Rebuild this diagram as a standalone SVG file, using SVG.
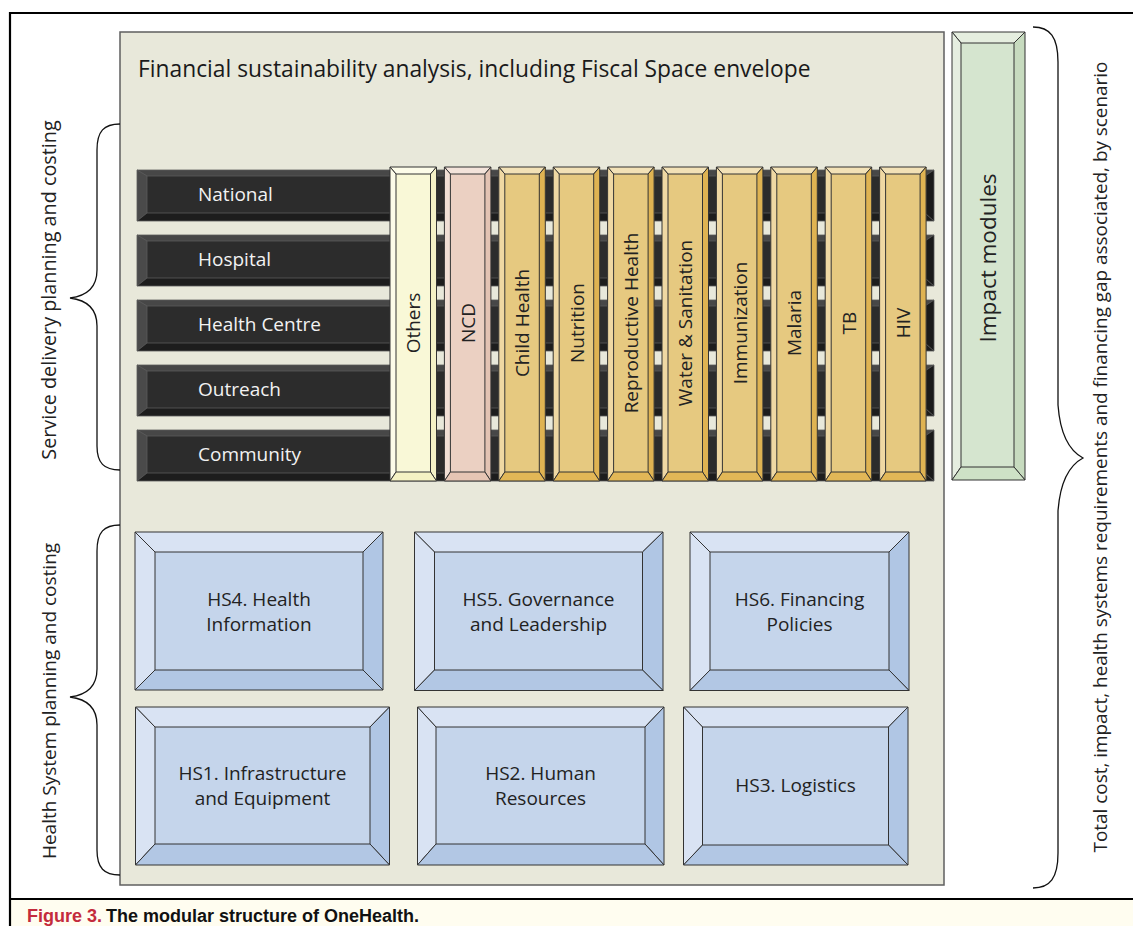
<svg xmlns="http://www.w3.org/2000/svg" width="1133" height="926" viewBox="0 0 1133 926">
  <style>
    .lbl { font-family: "Open Sans", "Noto Sans", "Liberation Sans", sans-serif; font-size: 19px; fill: #222; }
    .lbl-w { font-family: "Open Sans", "Noto Sans", "Liberation Sans", sans-serif; font-size: 19px; fill: #f2f2f2; }
    .title { font-family: "Open Sans", "Noto Sans", "Liberation Sans", sans-serif; font-size: 22.8px; fill: #1a1a1a; }
    .brace { fill: none; stroke: #111; stroke-width: 1.3; }
    .edge { stroke: #333; stroke-width: 1; stroke-linejoin: round; }
    .dedge { stroke: #5a5a5a; stroke-width: 0.8; stroke-linejoin: round; }
    /* service-delivery level bars */
    .bar-main { fill: #2c2c2c; }
    .bar-top { fill: #474747; }
    .bar-left { fill: #4a4a4a; }
    .bar-bot { fill: #1d1d1d; }
    .bar-right { fill: #1a1a1a; }
    /* programme columns */
    .oth-main { fill: #f9f8d7; } .oth-l { fill: #fcfbe8; } .oth-t { fill: #fdfce9; } .oth-r { fill: #f4f1c6; } .oth-b { fill: #f5f2c4; }
    .ncd-main { fill: #ebd0c2; } .ncd-l { fill: #f1dfd5; } .ncd-t { fill: #f3e3da; } .ncd-r { fill: #e3c3b3; } .ncd-b { fill: #e6c5b4; }
    .gld-main { fill: #e6c980; } .gld-l { fill: #efd8a3; } .gld-t { fill: #f2e1b6; } .gld-r { fill: #dfb352; } .gld-b { fill: #e2b757; }
    /* health system boxes */
    .hs-main { fill: #c5d5eb; } .hs-l { fill: #d9e3f3; } .hs-t { fill: #d9e3f3; } .hs-r { fill: #b0c6e4; } .hs-b { fill: #b2c7e4; }
    /* impact module */
    .imp-main { fill: #d5e5cf; } .imp-l { fill: #e5eee0; } .imp-t { fill: #e5eedf; } .imp-r { fill: #c7dbbf; } .imp-b { fill: #cee1c6; }
  </style>

  <!-- page background and figure frame -->
  <rect x="0" y="0" width="1133" height="926" fill="#ffffff"/>
  <rect x="11" y="900" width="1122" height="26" fill="#fffdf0"/>
  <g id="frame" stroke="#000" stroke-width="2.2" fill="none">
    <line x1="9" y1="13" x2="1133" y2="13"/>
    <line x1="10" y1="12" x2="10" y2="926"/>
    <line x1="9" y1="899" x2="1133" y2="899"/>
  </g>

  <!-- financial sustainability envelope -->
  <g id="envelope">
    <rect x="120" y="32" width="824" height="853" fill="#e8e8da" stroke="#5f5f5f" stroke-width="1.5"/>
    <text class="title" x="138" y="77">Financial sustainability analysis, including Fiscal Space envelope</text>
  </g>

  <!-- service delivery levels -->
  <g id="level-national">
    <rect class="bar-main" x="137" y="170" width="797" height="51"/>
    <polygon class="bar-top dedge" points="137,170 934,170 925,176 147,176"/>
    <polygon class="bar-left dedge" points="137,170 147,176 147,213 137,221"/>
    <polygon class="bar-bot dedge" points="137,221 147,213 925,213 934,221"/>
    <polygon class="bar-right dedge" points="934,170 934,221 925,213 925,176"/>
    <text class="lbl-w" x="198" y="201">National</text>
  </g>
  <g id="level-hospital">
    <rect class="bar-main" x="137" y="235" width="797" height="51"/>
    <polygon class="bar-top dedge" points="137,235 934,235 925,241 147,241"/>
    <polygon class="bar-left dedge" points="137,235 147,241 147,278 137,286"/>
    <polygon class="bar-bot dedge" points="137,286 147,278 925,278 934,286"/>
    <polygon class="bar-right dedge" points="934,235 934,286 925,278 925,241"/>
    <text class="lbl-w" x="198" y="266">Hospital</text>
  </g>
  <g id="level-health-centre">
    <rect class="bar-main" x="137" y="300" width="797" height="51"/>
    <polygon class="bar-top dedge" points="137,300 934,300 925,306 147,306"/>
    <polygon class="bar-left dedge" points="137,300 147,306 147,343 137,351"/>
    <polygon class="bar-bot dedge" points="137,351 147,343 925,343 934,351"/>
    <polygon class="bar-right dedge" points="934,300 934,351 925,343 925,306"/>
    <text class="lbl-w" x="198" y="331">Health Centre</text>
  </g>
  <g id="level-outreach">
    <rect class="bar-main" x="137" y="365" width="797" height="51"/>
    <polygon class="bar-top dedge" points="137,365 934,365 925,371 147,371"/>
    <polygon class="bar-left dedge" points="137,365 147,371 147,408 137,416"/>
    <polygon class="bar-bot dedge" points="137,416 147,408 925,408 934,416"/>
    <polygon class="bar-right dedge" points="934,365 934,416 925,408 925,371"/>
    <text class="lbl-w" x="198" y="396">Outreach</text>
  </g>
  <g id="level-community">
    <rect class="bar-main" x="137" y="430" width="797" height="51"/>
    <polygon class="bar-top dedge" points="137,430 934,430 925,436 147,436"/>
    <polygon class="bar-left dedge" points="137,430 147,436 147,473 137,481"/>
    <polygon class="bar-bot dedge" points="137,481 147,473 925,473 934,481"/>
    <polygon class="bar-right dedge" points="934,430 934,481 925,473 925,436"/>
    <text class="lbl-w" x="198" y="461">Community</text>
  </g>

  <!-- programme columns: width 46.5, inner inset 6 / 7 / 9 -->
  <g id="col-others">
    <rect class="oth-main" x="390" y="167" width="46.5" height="314"/>
    <polygon class="oth-t edge" points="390,167 436.5,167 430.5,174 396,174"/>
    <polygon class="oth-l edge" points="390,167 396,174 396,472 390,481"/>
    <polygon class="oth-r edge" points="436.5,167 436.5,481 430.5,472 430.5,174"/>
    <polygon class="oth-b edge" points="390,481 396,472 430.5,472 436.5,481"/>
    <text class="lbl" transform="translate(420.3,323) rotate(-90)" text-anchor="middle">Others</text>
  </g>
  <g id="col-ncd">
    <rect class="ncd-main" x="444.4" y="167" width="46.5" height="314"/>
    <polygon class="ncd-t edge" points="444.4,167 490.9,167 484.9,174 450.4,174"/>
    <polygon class="ncd-l edge" points="444.4,167 450.4,174 450.4,472 444.4,481"/>
    <polygon class="ncd-r edge" points="490.9,167 490.9,481 484.9,472 484.9,174"/>
    <polygon class="ncd-b edge" points="444.4,481 450.4,472 484.9,472 490.9,481"/>
    <text class="lbl" transform="translate(474.7,323) rotate(-90)" text-anchor="middle">NCD</text>
  </g>
  <g id="col-child-health">
    <rect class="gld-main" x="498.8" y="167" width="46.5" height="314"/>
    <polygon class="gld-t edge" points="498.8,167 545.3,167 539.3,174 504.8,174"/>
    <polygon class="gld-l edge" points="498.8,167 504.8,174 504.8,472 498.8,481"/>
    <polygon class="gld-r edge" points="545.3,167 545.3,481 539.3,472 539.3,174"/>
    <polygon class="gld-b edge" points="498.8,481 504.8,472 539.3,472 545.3,481"/>
    <text class="lbl" transform="translate(529.1,323) rotate(-90)" text-anchor="middle">Child Health</text>
  </g>
  <g id="col-nutrition">
    <rect class="gld-main" x="553.2" y="167" width="46.5" height="314"/>
    <polygon class="gld-t edge" points="553.2,167 599.7,167 593.7,174 559.2,174"/>
    <polygon class="gld-l edge" points="553.2,167 559.2,174 559.2,472 553.2,481"/>
    <polygon class="gld-r edge" points="599.7,167 599.7,481 593.7,472 593.7,174"/>
    <polygon class="gld-b edge" points="553.2,481 559.2,472 593.7,472 599.7,481"/>
    <text class="lbl" transform="translate(583.5,323) rotate(-90)" text-anchor="middle">Nutrition</text>
  </g>
  <g id="col-reproductive-health">
    <rect class="gld-main" x="607.6" y="167" width="46.5" height="314"/>
    <polygon class="gld-t edge" points="607.6,167 654.1,167 648.1,174 613.6,174"/>
    <polygon class="gld-l edge" points="607.6,167 613.6,174 613.6,472 607.6,481"/>
    <polygon class="gld-r edge" points="654.1,167 654.1,481 648.1,472 648.1,174"/>
    <polygon class="gld-b edge" points="607.6,481 613.6,472 648.1,472 654.1,481"/>
    <text class="lbl" transform="translate(637.9,323) rotate(-90)" text-anchor="middle">Reproductive Health</text>
  </g>
  <g id="col-water-sanitation">
    <rect class="gld-main" x="662" y="167" width="46.5" height="314"/>
    <polygon class="gld-t edge" points="662,167 708.5,167 702.5,174 668,174"/>
    <polygon class="gld-l edge" points="662,167 668,174 668,472 662,481"/>
    <polygon class="gld-r edge" points="708.5,167 708.5,481 702.5,472 702.5,174"/>
    <polygon class="gld-b edge" points="662,481 668,472 702.5,472 708.5,481"/>
    <text class="lbl" transform="translate(692.3,323) rotate(-90)" text-anchor="middle">Water &amp; Sanitation</text>
  </g>
  <g id="col-immunization">
    <rect class="gld-main" x="716.4" y="167" width="46.5" height="314"/>
    <polygon class="gld-t edge" points="716.4,167 762.9,167 756.9,174 722.4,174"/>
    <polygon class="gld-l edge" points="716.4,167 722.4,174 722.4,472 716.4,481"/>
    <polygon class="gld-r edge" points="762.9,167 762.9,481 756.9,472 756.9,174"/>
    <polygon class="gld-b edge" points="716.4,481 722.4,472 756.9,472 762.9,481"/>
    <text class="lbl" transform="translate(746.7,323) rotate(-90)" text-anchor="middle">Immunization</text>
  </g>
  <g id="col-malaria">
    <rect class="gld-main" x="770.8" y="167" width="46.5" height="314"/>
    <polygon class="gld-t edge" points="770.8,167 817.3,167 811.3,174 776.8,174"/>
    <polygon class="gld-l edge" points="770.8,167 776.8,174 776.8,472 770.8,481"/>
    <polygon class="gld-r edge" points="817.3,167 817.3,481 811.3,472 811.3,174"/>
    <polygon class="gld-b edge" points="770.8,481 776.8,472 811.3,472 817.3,481"/>
    <text class="lbl" transform="translate(801.1,323) rotate(-90)" text-anchor="middle">Malaria</text>
  </g>
  <g id="col-tb">
    <rect class="gld-main" x="825.2" y="167" width="46.5" height="314"/>
    <polygon class="gld-t edge" points="825.2,167 871.7,167 865.7,174 831.2,174"/>
    <polygon class="gld-l edge" points="825.2,167 831.2,174 831.2,472 825.2,481"/>
    <polygon class="gld-r edge" points="871.7,167 871.7,481 865.7,472 865.7,174"/>
    <polygon class="gld-b edge" points="825.2,481 831.2,472 865.7,472 871.7,481"/>
    <text class="lbl" transform="translate(855.5,323) rotate(-90)" text-anchor="middle">TB</text>
  </g>
  <g id="col-hiv">
    <rect class="gld-main" x="879.6" y="167" width="46.5" height="314"/>
    <polygon class="gld-t edge" points="879.6,167 926.1,167 920.1,174 885.6,174"/>
    <polygon class="gld-l edge" points="879.6,167 885.6,174 885.6,472 879.6,481"/>
    <polygon class="gld-r edge" points="926.1,167 926.1,481 920.1,472 920.1,174"/>
    <polygon class="gld-b edge" points="879.6,481 885.6,472 920.1,472 926.1,481"/>
    <text class="lbl" transform="translate(909.9,323) rotate(-90)" text-anchor="middle">HIV</text>
  </g>

  <!-- impact modules -->
  <g id="impact-modules">
    <rect class="imp-main" x="952" y="32" width="73" height="448"/>
    <polygon class="imp-t edge" points="952,32 1025,32 1014,43 961,43"/>
    <polygon class="imp-l edge" points="952,32 961,43 961,467 952,480"/>
    <polygon class="imp-r edge" points="1025,32 1025,480 1014,467 1014,43"/>
    <polygon class="imp-b edge" points="952,480 961,467 1014,467 1025,480"/>
    <text class="lbl" style="font-size:22.5px" transform="translate(996,258) rotate(-90)" text-anchor="middle">Impact modules</text>
  </g>

  <!-- health system building blocks -->
  <g id="hs4">
    <rect class="hs-main" x="135" y="532" width="248" height="158"/>
    <polygon class="hs-t edge" points="135,532 383,532 363,552 155,552"/>
    <polygon class="hs-l edge" points="135,532 155,552 155,670 135,690"/>
    <polygon class="hs-r edge" points="383,532 383,690 363,670 363,552"/>
    <polygon class="hs-b edge" points="135,690 155,670 363,670 383,690"/>
    <text class="lbl" x="259" y="606" text-anchor="middle">HS4. Health</text>
    <text class="lbl" x="259" y="631" text-anchor="middle">Information</text>
  </g>
  <g id="hs5">
    <rect class="hs-main" x="414.5" y="532" width="248.5" height="158.5"/>
    <polygon class="hs-t edge" points="414.5,532 663,532 642.5,552 434.5,552"/>
    <polygon class="hs-l edge" points="414.5,532 434.5,552 434.5,670 414.5,690.5"/>
    <polygon class="hs-r edge" points="663,532 663,690.5 642.5,670 642.5,552"/>
    <polygon class="hs-b edge" points="414.5,690.5 434.5,670 642.5,670 663,690.5"/>
    <text class="lbl" x="538.5" y="606" text-anchor="middle">HS5. Governance</text>
    <text class="lbl" x="538.5" y="631" text-anchor="middle">and Leadership</text>
  </g>
  <g id="hs6">
    <rect class="hs-main" x="690" y="532" width="219" height="158.5"/>
    <polygon class="hs-t edge" points="690,532 909,532 889,552 710,552"/>
    <polygon class="hs-l edge" points="690,532 710,552 710,670 690,690.5"/>
    <polygon class="hs-r edge" points="909,532 909,690.5 889,670 889,552"/>
    <polygon class="hs-b edge" points="690,690.5 710,670 889,670 909,690.5"/>
    <text class="lbl" x="799.5" y="606" text-anchor="middle">HS6. Financing</text>
    <text class="lbl" x="799.5" y="631" text-anchor="middle">Policies</text>
  </g>
  <g id="hs1">
    <rect class="hs-main" x="135.5" y="707" width="254" height="158"/>
    <polygon class="hs-t edge" points="135.5,707 389.5,707 370,727 155,727"/>
    <polygon class="hs-l edge" points="135.5,707 155,727 155,844 135.5,865"/>
    <polygon class="hs-r edge" points="389.5,707 389.5,865 370,844 370,727"/>
    <polygon class="hs-b edge" points="135.5,865 155,844 370,844 389.5,865"/>
    <text class="lbl" x="262.5" y="780" text-anchor="middle">HS1. Infrastructure</text>
    <text class="lbl" x="262.5" y="805" text-anchor="middle">and Equipment</text>
  </g>
  <g id="hs2">
    <rect class="hs-main" x="417.5" y="707" width="246.5" height="158"/>
    <polygon class="hs-t edge" points="417.5,707 664,707 645,727 436,727"/>
    <polygon class="hs-l edge" points="417.5,707 436,727 436,844 417.5,865"/>
    <polygon class="hs-r edge" points="664,707 664,865 645,844 645,727"/>
    <polygon class="hs-b edge" points="417.5,865 436,844 645,844 664,865"/>
    <text class="lbl" x="540.5" y="780" text-anchor="middle">HS2. Human</text>
    <text class="lbl" x="540.5" y="805" text-anchor="middle">Resources</text>
  </g>
  <g id="hs3">
    <rect class="hs-main" x="683.5" y="707" width="224.5" height="158"/>
    <polygon class="hs-t edge" points="683.5,707 908,707 888.5,727 702.5,727"/>
    <polygon class="hs-l edge" points="683.5,707 702.5,727 702.5,845 683.5,865"/>
    <polygon class="hs-r edge" points="908,707 908,865 888.5,845 888.5,727"/>
    <polygon class="hs-b edge" points="683.5,865 702.5,845 888.5,845 908,865"/>
    <text class="lbl" x="795.5" y="792" text-anchor="middle">HS3. Logistics</text>
  </g>

  <!-- grouping braces -->
  <g id="connectors">
    <path class="brace" d="M120,124 C104,124 97,131 97,150 L97,270 C97,288 86,296 70,298 C86,300 97,308 97,326 L97,446 C97,463 104,470 120,470"/>
    <path class="brace" d="M120,525 C104,525 97,532 97,551 L97,669 C97,687 86,695 70,697 C86,699 97,707 97,725 L97,850 C97,868 104,875 120,875"/>
    <path class="brace" d="M1033,27 C1050,27 1058,37 1058,62 L1058,405 C1060,432 1068,450 1083,458 C1068,466 1060,484 1058,511 L1058,853 C1058,878 1050,888 1033,888"/>
  </g>

  <!-- side labels -->
  <g id="side-labels">
    <text class="lbl" style="font-size:19.8px" transform="translate(56,290) rotate(-90)" text-anchor="middle">Service delivery planning and costing</text>
    <text class="lbl" transform="translate(56,701) rotate(-90)" text-anchor="middle">Health System planning and costing</text>
    <text class="lbl" style="font-size:18.9px" transform="translate(1107,457) rotate(-90)" text-anchor="middle">Total cost, impact, health systems requirements and financing gap associated, by scenario</text>
  </g>

  <!-- caption -->
  <g id="caption">
    <text x="27" y="922" font-family="'Liberation Sans', Arial, sans-serif" font-size="18" font-weight="bold"><tspan fill="#c42b3c">Figure 3.</tspan><tspan fill="#111" dx="4">The modular structure of OneHealth.</tspan></text>
  </g>
</svg>
